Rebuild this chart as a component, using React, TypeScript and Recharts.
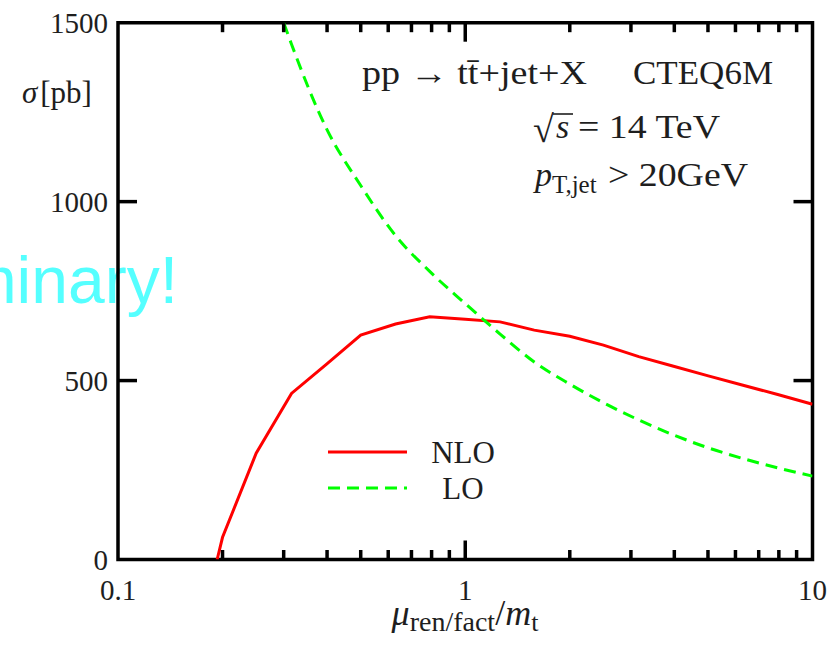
import React from "react";
import { LineChart, Line, XAxis, YAxis, ReferenceArea, Legend } from "recharts";

// NLO / LO cross sections vs. scale ratio
const NLO_X = [0.193, 0.2, 0.25, 0.316, 0.398, 0.5, 0.63, 0.79, 1, 1.26, 1.58, 2, 2.5, 3.16, 3.98, 5.01, 6.31, 7.94, 10];
const NLO_Y = [0, 62, 297, 464, 545, 627, 658, 678, 671, 664, 641, 624, 599, 567, 540, 513, 487, 461, 434];

const LO_X = [0.3, 0.316, 0.398, 0.5, 0.63, 0.79, 1, 1.26, 1.58, 2, 2.5, 3.16, 3.98, 5.01, 6.31, 7.94, 10];
const LO_Y = [1500, 1440, 1205, 1045, 905, 805, 715, 630, 552, 490, 438, 390, 348, 312, 282, 256, 233];

const X_TICKS = [0.1, 0.2, 0.3, 0.4, 0.5, 0.6, 0.7, 0.8, 0.9, 1, 2, 3, 4, 5, 6, 7, 8, 9, 10];
const X_LABELS = [0.1, 1, 10];
const Y_TICKS = [0, 500, 1000, 1500];
const LEGEND_ORDER = ["NLO", "LO"];

const nloData = NLO_X.map((x, i) => ({ x, y: NLO_Y[i] }));
const loData = LO_X.map((x, i) => ({ x, y: LO_Y[i] }));

const W = 840;
const H = 645;
const MARGIN = { top: 22.7, right: 27.5, left: 18, bottom: 25.5 };
const Y_AXIS_W = 100;
const X_AXIS_H = 60;
const PLOT_TOP = MARGIN.top;
const PLOT_RIGHT = W - MARGIN.right;

const INK = "#1e1e1e";
const SERIF = "'Liberation Serif', 'Times New Roman', serif";

const XTick = ({ x, y, payload }: any) => {
  const v = payload.value;
  const major = X_LABELS.includes(v);
  const edge = v === 0.1 || v === 10;
  const len = major ? 19 : 9.5;
  return (
    <g>
      {!edge && (
        <>
          <line x1={x} x2={x} y1={y} y2={y - len} stroke="#000" strokeWidth={3.5} />
          <line x1={x} x2={x} y1={PLOT_TOP} y2={PLOT_TOP + len} stroke="#000" strokeWidth={3.5} />
        </>
      )}
      {major && (
        <text x={x} y={y + 40} textAnchor="middle" fontSize={29} fill={INK} fontFamily={SERIF}>
          {String(v)}
        </text>
      )}
    </g>
  );
};

const YTick = ({ x, y, payload }: any) => {
  const v = payload.value;
  const edge = v === 0 || v === 1500;
  return (
    <g>
      {!edge && (
        <>
          <line x1={x} x2={x + 19} y1={y} y2={y} stroke="#000" strokeWidth={3.5} />
          <line x1={PLOT_RIGHT} x2={PLOT_RIGHT - 19} y1={y} y2={y} stroke="#000" strokeWidth={3.5} />
        </>
      )}
      <text x={x - 10} y={y + 10} textAnchor="end" fontSize={29} fill={INK} fontFamily={SERIF}>
        {String(v)}
      </text>
    </g>
  );
};

const LegendContent = ({ payload }: any) => {
  const items = [...(payload || [])].sort(
    (a: any, b: any) => LEGEND_ORDER.indexOf(a.value) - LEGEND_ORDER.indexOf(b.value)
  );
  return (
    <svg width={200} height={80} style={{ overflow: "visible" }}>
      {items.map((e: any, i: number) => (
        <g key={e.value}>
          <line
            x1={0}
            x2={79}
            y1={18 + 36 * i}
            y2={18 + 36 * i}
            stroke={e.color}
            strokeWidth={3}
            strokeDasharray={e.payload?.strokeDasharray}
          />
          <text x={135} y={29 + 36 * i} textAnchor="middle" fontSize={31} fill={INK} fontFamily={SERIF}>
            {e.value}
          </text>
        </g>
      ))}
    </svg>
  );
};

export default function App() {
  return (
    <div style={{ position: "absolute", left: 0, top: 0, width: W, height: H, background: "#fff" }}>
      <LineChart width={W} height={H} margin={MARGIN}>
        <text
          x={178}
          y={303}
          textAnchor="end"
          fontSize={66}
          fill="#55ffff"
          fontFamily="'Liberation Sans', Arial, sans-serif"
        >
          Preliminary!
        </text>

        <XAxis
          dataKey="x"
          type="number"
          scale="log"
          domain={[0.1, 10]}
          allowDataOverflow
          ticks={X_TICKS}
          interval={0}
          height={X_AXIS_H}
          axisLine={false}
          tickLine={false}
          tickSize={0}
          tickMargin={0}
          tick={<XTick />}
        />
        <YAxis
          type="number"
          domain={[0, 1500]}
          allowDataOverflow
          ticks={Y_TICKS}
          interval={0}
          width={Y_AXIS_W}
          axisLine={false}
          tickLine={false}
          tickSize={0}
          tickMargin={0}
          tick={<YTick />}
        />

        <Line
          data={nloData}
          dataKey="y"
          name="NLO"
          type="linear"
          stroke="#ff0000"
          strokeWidth={3}
          dot={false}
          isAnimationActive={false}
        />
        <Line
          data={loData}
          dataKey="y"
          name="LO"
          type="monotone"
          stroke="#00ff00"
          strokeWidth={3}
          strokeDasharray="12 7"
          dot={false}
          isAnimationActive={false}
        />

        <ReferenceArea
          x1={0.1}
          x2={10}
          y1={0}
          y2={1500}
          fill="none"
          stroke="#000"
          strokeWidth={3.5}
          ifOverflow="visible"
        />

        <Legend
          layout="horizontal"
          align="center"
          verticalAlign="middle"
          content={<LegendContent />}
          wrapperStyle={{ left: 327.7, top: 434.3, width: 200, height: 80 }}
        />

        {/* axis titles */}
        <text x={22} y={103} fontSize={31} fill={INK} fontFamily={SERIF}>
          <tspan fontStyle="italic">σ</tspan>
          <tspan dx={3}>[pb]</tspan>
        </text>
        <text x={465} y={625} textAnchor="middle" fontSize={36} fill={INK} fontFamily={SERIF}>
          <tspan fontStyle="italic">μ</tspan>
          <tspan fontSize={28} dy={6}>ren/fact</tspan>
          <tspan dy={-6}>/</tspan>
          <tspan fontStyle="italic">m</tspan>
          <tspan fontSize={26} dy={6}>t</tspan>
        </text>

        {/* process info */}
        <text x={362} y={84} fontSize={33} fill={INK} fontFamily={SERIF} textLength={225} lengthAdjust="spacingAndGlyphs">
          pp → tt̄+jet+X
        </text>
        <text x={633} y={84} fontSize={33} fill={INK} fontFamily={SERIF} textLength={140} lengthAdjust="spacingAndGlyphs">
          CTEQ6M
        </text>
        <text x={533} y={142} fontSize={38} fill={INK} fontFamily={SERIF}>
          √
        </text>
        <line x1={553} x2={573} y1={114} y2={114} stroke={INK} strokeWidth={1.6} />
        <text x={556} y={138} fontSize={34} fill={INK} fontFamily={SERIF} fontStyle="italic">
          s
        </text>
        <text x={578} y={138} fontSize={33} fill={INK} fontFamily={SERIF} textLength={142} lengthAdjust="spacingAndGlyphs">
          = 14 TeV
        </text>
        <text x={535} y={186} fontSize={34} fill={INK} fontFamily={SERIF}>
          <tspan fontStyle="italic">p</tspan>
          <tspan fontSize={25} dy={7}>T,jet</tspan>
        </text>
        <text x={608} y={186} fontSize={33} fill={INK} fontFamily={SERIF} textLength={140} lengthAdjust="spacingAndGlyphs">
          &gt; 20GeV
        </text>
      </LineChart>
    </div>
  );
}
